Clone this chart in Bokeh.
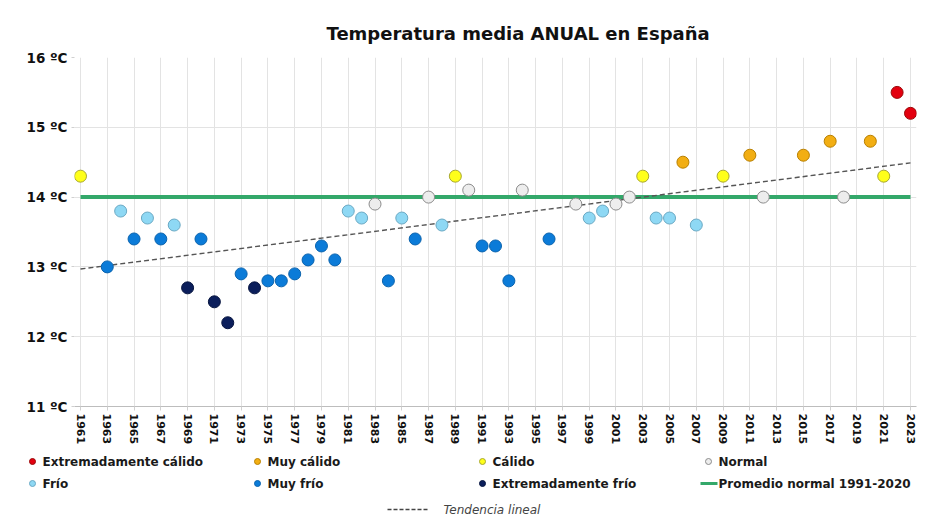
from bokeh.plotting import figure
from bokeh.models import ColumnDataSource, Range1d, FixedTicker
from bokeh.layouts import column, row
from bokeh.embed import file_html
from bokeh.resources import INLINE
from bokeh.core.properties import value

# ---------------- data ----------------
years = [1961, 1963, 1964, 1965, 1966, 1967, 1968, 1969, 1970, 1971, 1972, 1973, 1974,
         1975, 1976, 1977, 1978, 1979, 1980, 1981, 1982, 1983, 1984, 1985, 1986, 1987,
         1988, 1989, 1990, 1991, 1992, 1993, 1994, 1996, 1998, 1999, 2000, 2001, 2002,
         2003, 2004, 2005, 2006, 2007, 2009, 2011, 2012, 2015, 2017, 2018, 2020, 2021,
         2022, 2023]
temps = [14.3, 13.0, 13.8, 13.4, 13.7, 13.4, 13.6, 12.7, 13.4, 12.5, 12.2, 12.9, 12.7,
         12.8, 12.8, 12.9, 13.1, 13.3, 13.1, 13.8, 13.7, 13.9, 12.8, 13.7, 13.4, 14.0,
         13.6, 14.3, 14.1, 13.3, 13.3, 12.8, 14.1, 13.4, 13.9, 13.7, 13.8, 13.9, 14.0,
         14.3, 13.7, 13.7, 14.5, 13.6, 14.3, 14.6, 14.0, 14.6, 14.8, 14.0, 14.8, 14.3,
         15.5, 15.2]
categories = ["Cálido", "Muy frío", "Frío", "Muy frío", "Frío", "Muy frío", "Frío",
              "Extremadamente frío", "Muy frío", "Extremadamente frío", "Extremadamente frío",
              "Muy frío", "Extremadamente frío", "Muy frío", "Muy frío", "Muy frío", "Muy frío",
              "Muy frío", "Muy frío", "Frío", "Frío", "Normal", "Muy frío", "Frío", "Muy frío",
              "Normal", "Frío", "Cálido", "Normal", "Muy frío", "Muy frío", "Muy frío", "Normal",
              "Muy frío", "Normal", "Frío", "Frío", "Normal", "Normal", "Cálido", "Frío", "Frío",
              "Muy cálido", "Frío", "Cálido", "Muy cálido", "Normal", "Muy cálido", "Muy cálido",
              "Normal", "Muy cálido", "Cálido", "Extremadamente cálido", "Extremadamente cálido"]

trend_years = [1961, 2023]
trend_temps = [12.97, 14.49]
normal_years = [1961, 2023]
normal_temps = [14.0, 14.0]

x_ticks = list(range(1961, 2024, 2))
y_ticks = [11, 12, 13, 14, 15, 16]
y_labels = ["11 ºC", "12 ºC", "13 ºC", "14 ºC", "15 ºC", "16 ºC"]

legend_rows = [["Extremadamente cálido", "Muy cálido", "Cálido", "Normal"],
               ["Frío", "Muy frío", "Extremadamente frío", "Promedio normal 1991-2020"]]
title_text = "Temperatura media ANUAL en España"
trend_label = "Tendencia lineal"

# ---------------- styles ----------------
STYLE = {
    "Extremadamente cálido": ("#E3000F", "#9A0A0A"),
    "Muy cálido": ("#F2AE13", "#B98000"),
    "Cálido": ("#FFFF1A", "#A8A830"),
    "Normal": ("#EDEDED", "#8C8C8C"),
    "Frío": ("#8ED8F4", "#6AA9C4"),
    "Muy frío": ("#0B7BD8", "#0A63AE"),
    "Extremadamente frío": ("#0B1E5B", "#071540"),
}
FONT = "DejaVu Sans"
GREEN = "#33A86A"
FRAME_L, FRAME_R = 74, 916

# ---------------- main chart ----------------
PX_PER_YEAR = 830 / 62
pad = 6 / PX_PER_YEAR
p = figure(width=950, height=450, output_backend="svg", toolbar_location=None,
           x_range=Range1d(1961 - pad, 2023 + pad), y_range=Range1d(11, 16),
           min_border_left=FRAME_L, min_border_right=950 - FRAME_R,
           min_border_top=57, min_border_bottom=44, title=title_text)
p.outline_line_color = None
p.background_fill_color = "white"
p.border_fill_color = "white"

p.title.align = "left"
p.title.offset = 252
p.title.standoff = 27
p.title.text_font = FONT
p.title.text_font_size = "18px"
p.title.text_font_style = "bold"
p.title.text_color = "#111111"

p.xaxis.ticker = FixedTicker(ticks=x_ticks)
p.xaxis.major_label_orientation = "vertical"
p.xaxis.major_label_text_font = FONT
p.xaxis.major_label_text_font_size = "11px"
p.xaxis.major_label_text_font_style = "bold"
p.xaxis.major_label_text_color = "#111111"
p.xaxis.major_label_standoff = 3
p.xaxis.axis_line_color = "#BDBDBD"
p.xaxis.major_tick_line_color = "#D0D0D0"
p.xaxis.major_tick_out = 4
p.xaxis.major_tick_in = 0
p.xaxis.minor_tick_line_color = None

p.yaxis.ticker = FixedTicker(ticks=y_ticks)
p.yaxis.major_label_overrides = {t: lab for t, lab in zip(y_ticks, y_labels)}
p.yaxis.major_label_text_font = FONT
p.yaxis.major_label_text_font_size = "13.5px"
p.yaxis.major_label_text_font_style = "bold"
p.yaxis.major_label_text_color = "#111111"
p.yaxis.major_label_standoff = 4
p.yaxis.axis_line_color = None
p.yaxis.major_tick_line_color = "#D0D0D0"
p.yaxis.major_tick_out = 3
p.yaxis.major_tick_in = 0
p.yaxis.minor_tick_line_color = None

p.xgrid.ticker = FixedTicker(ticks=x_ticks)
p.xgrid.grid_line_color = "#E3E3E3"
p.ygrid.ticker = FixedTicker(ticks=y_ticks[1:-1])
p.ygrid.grid_line_color = "#E3E3E3"

p.line(normal_years, normal_temps, line_color=GREEN, line_width=4)
p.line(trend_years, trend_temps, line_color="#555555", line_width=1.4, line_dash="5 3")

for cat, (fill, edge) in STYLE.items():
    idx = [i for i, c in enumerate(categories) if c == cat]
    src = ColumnDataSource(dict(year=[years[i] for i in idx], temp=[temps[i] for i in idx]))
    p.scatter("year", "temp", source=src, size=12, fill_color=fill, line_color=edge,
              line_width=1)

# ---------------- legend panel (canvas-pixel coordinates) ----------------
lg = figure(width=950, height=80, output_backend="svg", toolbar_location=None,
            x_range=Range1d(0, 950), y_range=Range1d(80, 0),
            x_axis_location=None, y_axis_location=None,
            min_border_left=0, min_border_right=0, min_border_top=0, min_border_bottom=0)
lg.outline_line_color = None
lg.xgrid.visible = False
lg.ygrid.visible = False
lg.border_fill_color = "white"

col_x = [32, 257, 482, 708]
row_y = [11, 33]
dot_x, dot_y, dot_f, dot_l = [], [], [], []
txt_x, txt_y, txt = [], [], []
for r, row_items in enumerate(legend_rows):
    for c, name in enumerate(row_items):
        if name in STYLE:
            dot_x.append(col_x[c]); dot_y.append(row_y[r])
            dot_f.append(STYLE[name][0]); dot_l.append(STYLE[name][1])
        else:
            lg.line([col_x[c] - 8, col_x[c] + 9], [row_y[r], row_y[r]],
                    line_color=GREEN, line_width=3)
        txt_x.append(col_x[c] + 10)
        txt_y.append(row_y[r]); txt.append(name)

lg.scatter(dot_x, dot_y, size=6, fill_color=dot_f, line_color=dot_l, line_width=1)
lg.text(txt_x, txt_y, text=txt, text_font=value(FONT), text_font_size="12px",
        text_font_style="bold", text_color="#1A1A1A", text_baseline="middle",
        text_align="left")
lg.line([387, 429], [59, 59], line_color="#444444", line_width=1.5, line_dash="4 2")
lg.text([443], [59], text=[trend_label], text_font=value(FONT), text_font_size="12px",
        text_font_style="italic", text_color="#444444", text_baseline="middle",
        text_align="left")

layout = column(p, row(lg), spacing=0)
open("out.html", "w").write(file_html(layout, INLINE))
